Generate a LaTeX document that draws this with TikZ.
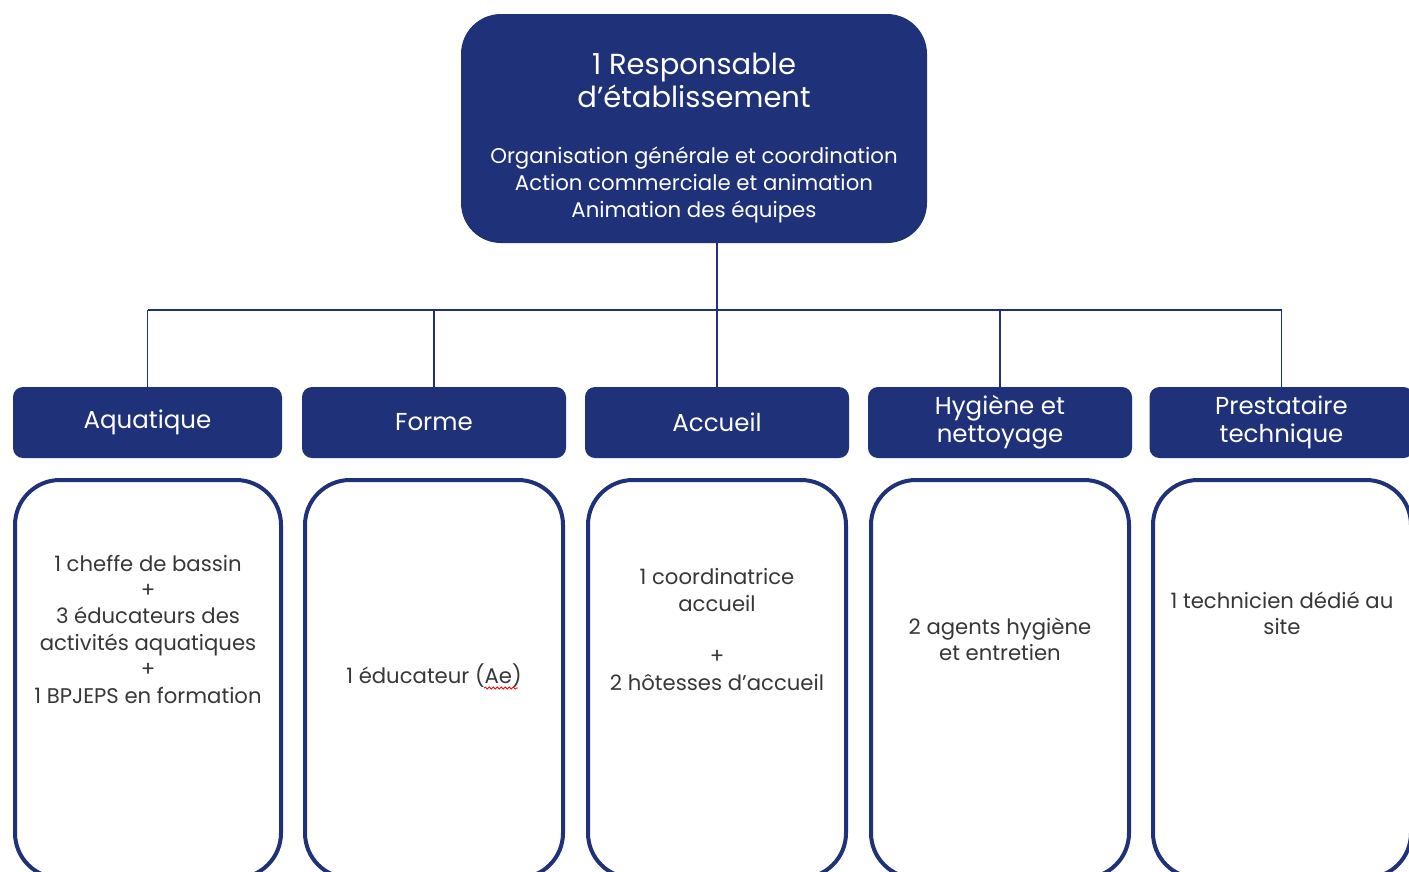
\documentclass[tikz,border=0pt]{standalone}
\usepackage{fontspec}
\setmainfont{Poppins}
\usetikzlibrary{positioning, decorations.pathmorphing}
\definecolor{navy}{RGB}{31,49,120}
\definecolor{bodygray}{RGB}{55,55,55}

\begin{document}
\begin{tikzpicture}[x=1pt, y=-1pt,
    chief/.style={fill=navy, rounded corners=40pt, minimum width=466pt, minimum height=229pt, inner sep=0pt},
    chieftext/.style={text=white, align=center, font=\fontsize{21.3}{27}\selectfont},
    team/.style={fill=navy, rounded corners=10pt, minimum width=264pt, minimum height=71pt, inner sep=0pt, text=white, align=center, font=\fontsize{24.5}{28}\selectfont},
    staff/.style={draw=navy, line width=4pt, rounded corners=45pt, minimum width=258pt, minimum height=398pt, inner sep=0pt},
    body/.style={text=bodygray, align=center, font=\fontsize{21.2}{26.4}\selectfont},
    link/.style={draw=navy, line width=1.5pt}]
    \clip (0,0) rectangle (1409,871);
    \useasboundingbox (0,0) rectangle (1409,871);

    \node[chief] (top) at (694,128.5) {};
    \node[chieftext] (toptxt) at ([yshift=-9.5pt]top.center) {\fontsize{29}{34}\selectfont 1 Responsable\\[2pt]
        \fontsize{29}{34}\selectfont d’établissement\\[29pt]
        Organisation générale et coordination\\
        Action commerciale et animation\\
        Animation des équipes};

    \node[team, minimum width=269pt] (aqua) at (147.5,422.5) {Aquatique};
    \node[team] (forme) at (434,422.5) {Forme};
    \node[team] (acc) at (717,422.5) {Accueil};
    \node[team] (hyg) at (1000,422.5) {Hygiène et\\nettoyage};
    \node[team] (pres) at (1281.5,422.5) {Prestataire\\technique};

    \node[staff, minimum width=266pt] (aquabox) at (148,679) {};
    \node[staff] (formebox) at (434,679) {};
    \node[staff] (accbox) at (717,679) {};
    \node[staff] (hygbox) at (1000,679) {};
    \node[staff] (presbox) at (1282,679) {};

    \node[body] (aquatxt) at (148,629) {1 cheffe de bassin\\+\\3 éducateurs des\\activités aquatiques\\+\\1 BPJEPS en formation};
    \node[body] (formetxt) at (434,676) {1 éducateur (Ae)};
    \node[body] (acctxt) at (717,629.5) {1 coordinatrice\\accueil\\[26.4pt]+\\2 hôtesses d’accueil};
    \node[body] (hygtxt) at (1000,639) {2 agents hygiène\\et entretien};
    \node[body] (prestxt) at (1282,613) {1 technicien dédié au\\site};
    \draw[red, line width=0.8pt, decorate, decoration={snake, amplitude=1pt, segment length=4pt}]
        ([xshift=50pt, yshift=-12pt]formetxt.center) -- ++(34,0);

    \coordinate (bus) at (0,310);
    \draw[link] (top.south -| acc) -- (acc.north);
    \draw[link] (aqua.north |- bus) -- (pres.north |- bus);
    \foreach \t in {aqua, forme, hyg, pres}
        \draw[link] (\t.north |- bus) -- (\t.north);
\end{tikzpicture}
\end{document}
